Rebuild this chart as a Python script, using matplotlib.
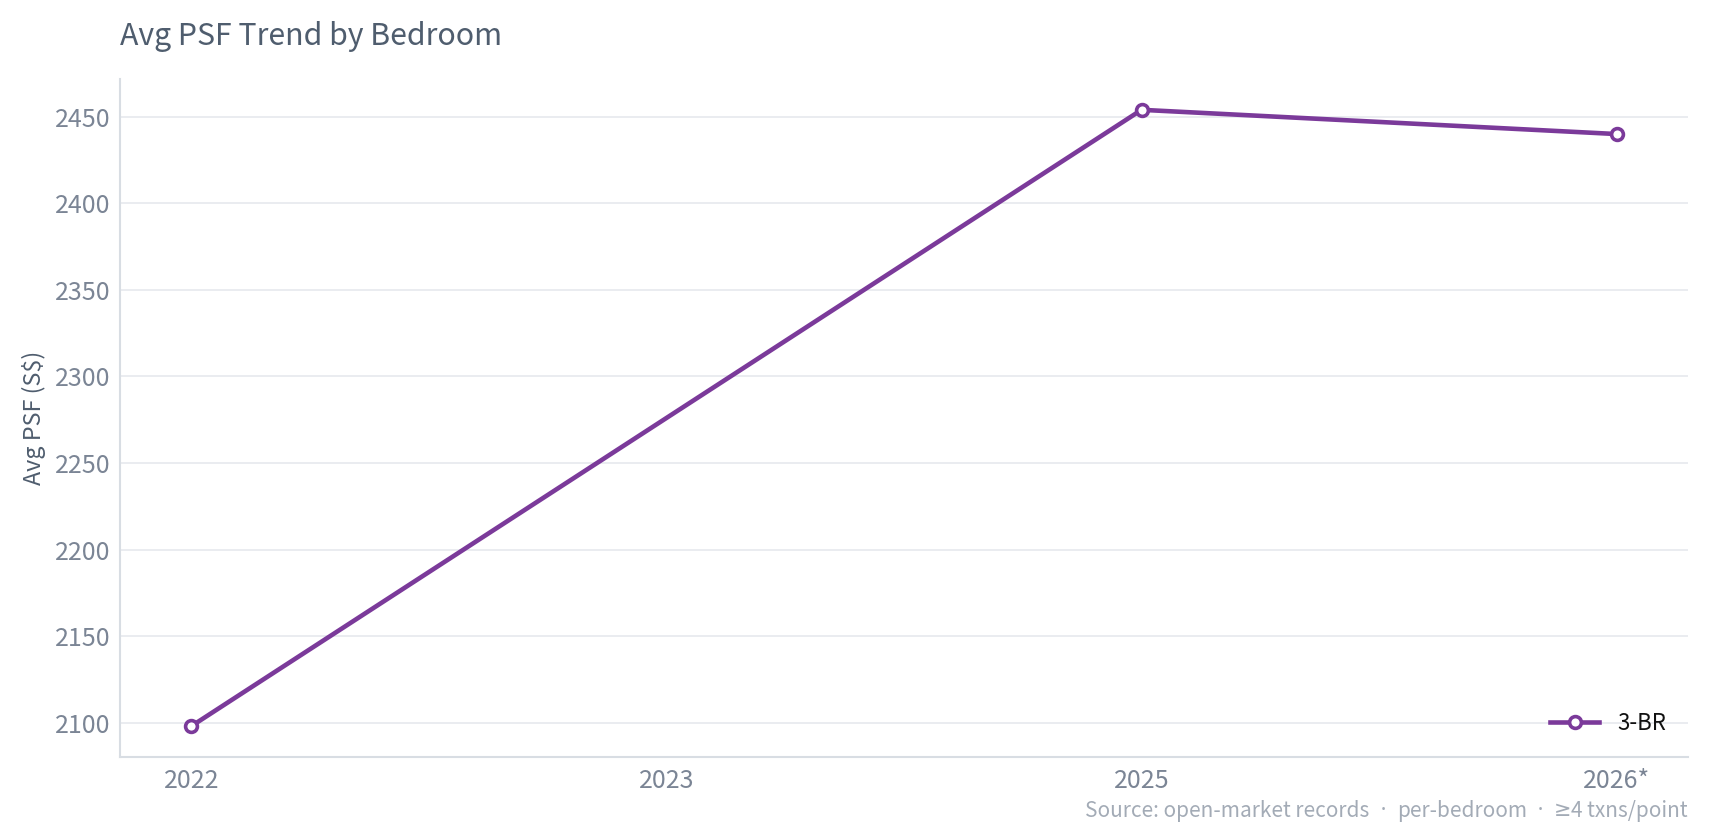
import matplotlib
matplotlib.use("Agg")
import matplotlib.pyplot as plt

# Data
categories = ["2022", "2023", "2025", "2026*"]
series_name = "3-BR"
series_values = [2098, None, 2454, 2440]

title = "Avg PSF Trend by Bedroom"
ylabel = "Avg PSF (S$)"
source_parts = ["Source: open-market records", "  \u00b7  ", "per-bedroom", "  \u00b7  ",
                "\u2265", "4 txns/point"]

FONT = ["Noto Sans CJK SC", "DejaVu Sans"]
ALT = ["Noto Sans", "DejaVu Sans"]
plt.rcParams["font.family"] = FONT

LINE_COLOR = "#7b3a9a"
TITLE_COLOR = "#4f5d6e"
TICK_COLOR = "#7b8595"
SOURCE_COLOR = "#a3abb6"
AXIS_COLOR = "#d8dde3"
GRID_COLOR = "#e6e9ed"

W, H = 1710, 840
fig = plt.figure(figsize=(W / 100, H / 100), dpi=100)
ax = fig.add_axes([120 / W, 1 - 757 / H, (1688 - 120) / W, (757 - 79) / H])

xs = [i for i, v in enumerate(series_values) if v is not None]
ys = [v for v in series_values if v is not None]
ax.plot(xs, ys, color=LINE_COLOR, lw=3.3, marker="o", ms=8.5, mew=2.6,
        mfc="white", mec=LINE_COLOR, label=series_name, zorder=3)

ax.set_xticks(range(len(categories)))
ax.set_xticklabels(categories)
ax.set_xlim(-0.15, len(categories) - 1 + 0.15)
ax.margins(y=0.05)
ax.set_yticks([2100, 2150, 2200, 2250, 2300, 2350, 2400, 2450])

for s in ["top", "right"]:
    ax.spines[s].set_visible(False)
for s in ["left", "bottom"]:
    ax.spines[s].set_color(AXIS_COLOR)
    ax.spines[s].set_linewidth(1.5)

ax.grid(axis="y", color=GRID_COLOR, lw=1.2)
ax.set_axisbelow(True)
ax.tick_params(axis="both", length=0, labelsize=18, colors=TICK_COLOR)
ax.tick_params(axis="y", pad=7)
ax.tick_params(axis="x", pad=8)

ax.set_ylabel(ylabel, fontsize=16.8, color=TITLE_COLOR, va="center")
ax.yaxis.set_label_coords((34 - 120) / 1568, 0.5)

fig.text(120 / W, 1 - 36 / H, title, fontsize=21.8, color=TITLE_COLOR,
         ha="left", va="center")

# source line, built right-to-left so that it ends at the axes' right edge
renderer = fig.canvas.get_renderer()
x_px = 1688
y_fig = 1 - 811 / H
for part in reversed(source_parts):
    fam = ALT if ("\u00b7" in part or "\u2265" in part) else FONT
    t = fig.text(x_px / W, y_fig, part, fontsize=15, color=SOURCE_COLOR,
                 ha="right", va="center", family=fam)
    bb = t.get_window_extent(renderer)
    x_px -= bb.width

leg = ax.legend(loc="lower right", frameon=False, fontsize=16, handlelength=2.2,
                borderaxespad=0.6, bbox_to_anchor=(1.0, 0.0))
for t in leg.get_texts():
    t.set_color("#111111")

fig.savefig("out.png", dpi=100)
